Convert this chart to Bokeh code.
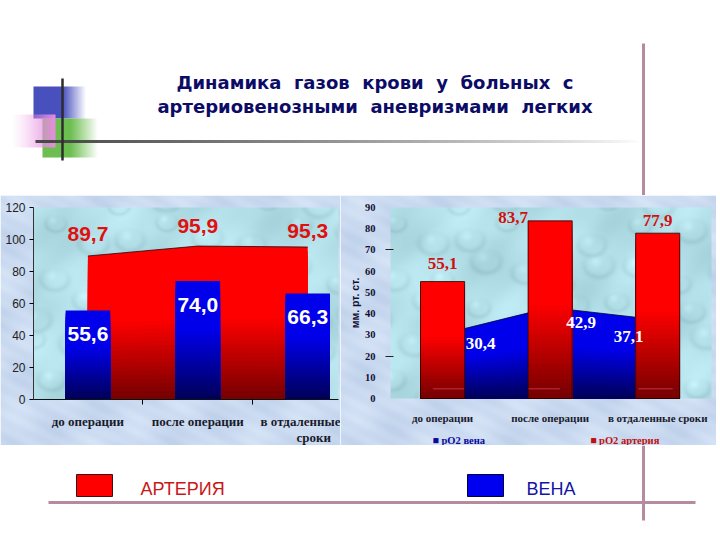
import numpy as np
from bokeh.core.properties import value
from bokeh.embed import file_html
from bokeh.layouts import column, row
from bokeh.models import FixedTicker, Range1d
from bokeh.plotting import figure
from bokeh.resources import INLINE

NB = "\u00a0"
title_lines = [f"Динамика {NB}газов {NB}крови {NB}у {NB}больных {NB}с", f"артериовенозными {NB}аневризмами {NB}легких"]
categories_left = ["до операции", "после операции", "в отдаленные"]
category_left_second_line = "сроки"
artery_left = [89.7, 95.9, 95.3]
vein_left = [55.6, 74.0, 66.3]
ticks_left = [0, 20, 40, 60, 80, 100, 120]

categories_right = ["до операции", "после операции", "в отдаленные сроки"]
vein_right = [30.4, 42.9, 37.1]
artery_right = [55.1, 83.7, 77.9]
ticks_right = [0, 10, 20, 30, 40, 50, 60, 70, 80, 90]
y_label_right = "мм. рт. ст."
legend_right = ["■ pO2 вена", "■ pO2 артерия"]
legend_bottom = ["АРТЕРИЯ", "ВЕНА"]

LINE = "#b88a9f"
N = 36
SANS = value("Liberation Sans")
SERIF = value("Liberation Serif")


def fmt(v):
    return f"{v:.1f}".replace(".", ",")


def rgba(arr):
    a = np.clip(arr, 0, 255).astype(np.uint32)
    return a[..., 0] | (a[..., 1] << 8) | (a[..., 2] << 16) | (a[..., 3] << 24)


def texture(w, h, fl, fr, ft, fb):
    """Panel backdrop: mottled lilac border around a droplet-textured frame."""
    yy, xx = np.mgrid[0:h, 0:w].astype(float)
    img = np.zeros((h, w, 4))
    mott = 5 * np.sin(xx / 23 + yy / 11) + 4 * np.sin(xx / 9 - yy / 17) + 3 * np.sin((xx - 2 * yy) / 5)
    img[..., 0] = 203 + mott
    img[..., 1] = 219 + mott * 0.8
    img[..., 2] = 241 + mott * 0.5
    img[..., 3] = 255
    base = np.zeros((h, w, 3))
    base[..., 0], base[..., 1], base[..., 2] = 180, 225, 233
    m = 6 * np.sin(xx / 17 + yy / 29) + 5 * np.sin(xx / 41 - yy / 13) + 2 * np.sin((xx + yy) / 7)
    for c in range(3):
        base[..., c] += m
    for i in range(0, w + 44, 44):
        for j in range(0, h + 38, 38):
            cx = i + 14 * np.sin(j * 0.7 + i * 0.13)
            cy = j + 12 * np.cos(i * 0.9 + j * 0.21)
            r = 9 + 5 * abs(np.sin(i * 0.31 + j * 0.47))
            d = np.hypot((xx - cx) / 1.2, yy - cy) / r
            rim = np.exp(-((d - 0.9) / 0.2) ** 2)
            hi = np.exp(-(np.hypot(xx - cx + 3, yy - cy + 3) / (r * 0.35)) ** 2)
            for c in range(3):
                base[..., c] += 12 * hi - 13 * rim * np.sin(0.8 + (yy - cy) / r)
    img[ft:h - fb, fl:w - fr, :3] = base[ft:h - fb, fl:w - fr]
    return rgba(img[::-1])


def red_shade(t):
    return "#%02x0000" % int(112 + 143 * min(t / 0.55, 1))


def blue_shade(t):
    return "#0000%02x" % int(84 + 150 * min(t / 0.6, 1))


def grad_bars(p, x, values, width, shade):
    for k in range(N, 0, -1):
        p.vbar(x=x, top=[v * k / N for v in values], width=width, color=shade(k / N), line_alpha=0)


def grad_area(p, x, values, shade):
    for k in range(N, 0, -1):
        p.varea(x=x, y1=[0] * len(values), y2=[v * k / N for v in values], fill_color=shade(k / N))
    p.line(x, values, line_color="#300000" if shade is red_shade else "#000040", line_width=0.8)


def panel(w, h, xr, yr, fl, fr, ft, fb):
    """Figure whose frame fills the panel; xr, yr are the limits of the inner plot box."""
    fw, fh = w - fl - fr, h - ft - fb
    ux, uy = (xr[1] - xr[0]) / fw, (yr[1] - yr[0]) / fh
    X0, X1 = xr[0] - fl * ux, xr[1] + fr * ux
    Y0, Y1 = yr[0] - fb * uy, yr[1] + ft * uy
    p = figure(width=w, height=h, x_range=Range1d(X0, X1), y_range=Range1d(Y0, Y1),
               output_backend="svg", toolbar_location=None, min_border=0)
    p.outline_line_color = None
    p.grid.visible = False
    p.image_rgba(image=[texture(w, h, fl, fr, ft, fb)], x=X0, y=Y0, dw=X1 - X0, dh=Y1 - Y0)
    p.xaxis.fixed_location = yr[0]
    p.yaxis.fixed_location = xr[0]
    p.xaxis.bounds = tuple(xr)
    p.yaxis.bounds = tuple(yr)
    return p


# ---------- top decoration ----------
top = figure(width=716, height=195, x_range=Range1d(0, 716), y_range=Range1d(0, 195),
             output_backend="svg", toolbar_location=None, min_border=0)
top.axis.visible = False
top.grid.visible = False
top.outline_line_color = None
top.background_fill_color = "white"
top.border_fill_color = "white"


def Y(v):
    return 195 - v


def fade_rect(x0, x1, y0, y1, col, solid_to, fade_left=False):
    w, h = x1 - x0, y1 - y0
    a = np.zeros((h, w, 4))
    xs = np.arange(w) / max(w - 1, 1)
    alpha = np.clip((1 - xs) / (1 - solid_to), 0, 1)
    if fade_left:
        alpha = np.clip(xs / solid_to, 0, 1) ** 1.3
    for c in range(3):
        a[..., c] = col[c]
    a[..., 3] = 255 * alpha
    top.image_rgba(image=[rgba(a)], x=x0, y=Y(y1), dw=w, dh=h)


fade_rect(33, 86, 86, 118, (72, 80, 190), 0.55)
fade_rect(42, 98, 118, 157, (108, 190, 80), 0.5)
fade_rect(10, 55, 114, 147, (232, 140, 225), 1.0, fade_left=True)

hl = np.zeros((3, 605, 4))
hl[..., :3] = 70
hl[..., 3] = 255 * np.clip(1 - np.arange(605) / 605, 0, 1) ** 0.8
top.image_rgba(image=[rgba(hl)], x=35, y=Y(142.5), dw=605, dh=3)
top.segment(x0=[62], y0=[Y(78)], x1=[62], y1=[Y(160)], line_color="#2c2c2c", line_width=2.5)
top.segment(x0=[643], y0=[Y(43)], x1=[643], y1=[Y(195)], line_color=LINE, line_width=3)
top.text(x=[374.5, 374.5], y=[Y(82), Y(106)], text=title_lines, text_font_style="bold", text_font=value("DejaVu Sans"),
         text_font_size="18px", text_color="#0c0c66", text_align="center", text_baseline="middle")

# ---------- left chart ----------
x_l = [0, 1, 2]
left = panel(340, 250, (-0.495, 2.28), (0, 120), 33, 2, 12, 46)
grad_area(left, x_l, artery_left, red_shade)
grad_bars(left, x_l, vein_left, 0.405, blue_shade)
left.xaxis.ticker = FixedTicker(ticks=x_l, minor_ticks=[0.5, 1.5])
left.xaxis.major_label_overrides = dict(zip(x_l, categories_left))
left.xaxis.major_tick_line_color = None
left.xaxis.minor_tick_out = 5
left.xaxis.minor_tick_in = 0
left.xaxis.major_label_standoff = 8
left.xaxis.major_label_text_font = "Liberation Serif"
left.xaxis.major_label_text_font_style = "bold"
left.xaxis.major_label_text_font_size = "13px"
left.xaxis.major_label_text_color = "#1a1a2a"
left.xaxis.axis_line_color = "#111111"
left.yaxis.ticker = FixedTicker(ticks=ticks_left)
left.yaxis.major_tick_out = 4
left.yaxis.major_tick_in = 0
left.yaxis.minor_tick_line_color = None
left.yaxis.major_label_standoff = 4
left.yaxis.major_label_text_font = "Liberation Sans"
left.yaxis.major_label_text_font_size = "12px"
left.yaxis.major_label_text_color = "#222222"
left.yaxis.axis_line_color = "#333333"
left.text(x=x_l, y=artery_left, text=[fmt(v) for v in artery_left], y_offset=[-22, -20, -16],
          text_font=SANS, text_font_style="bold", text_font_size="21px",
          text_color="#e01010", text_align="center", text_baseline="middle")
left.text(x=x_l, y=vein_left, text=[fmt(v) for v in vein_left], y_offset=[23, 24, 24],
          text_font=SANS, text_font_style="bold", text_font_size="21px",
          text_color="white", text_align="center", text_baseline="middle")
left.text(x=[x_l[2]], y=[0], text=[category_left_second_line], y_offset=[38], x_offset=[6],
          text_font=SERIF, text_font_style="bold", text_font_size="13px",
          text_color="#1a1a2a", text_align="center", text_baseline="middle")

# ---------- right chart ----------
x_r = [0, 1, 2]
right = panel(376, 250, (-0.484, 2.5), (0, 90), 50, 5, 12, 47)
grad_area(right, x_r, vein_right, blue_shade)
grad_bars(right, x_r, artery_right, 0.41, red_shade)
right.vbar(x=x_r, top=artery_right, width=0.41, fill_alpha=0, line_color="#200000", line_width=0.8)
right.segment(x0=[-0.09, 0.8, 1.82], x1=[0.2, 1.09, 2.14], y0=[4.6] * 3, y1=[4.6] * 3,
              line_color="#b02030", line_width=1.5)
right.xaxis.ticker = FixedTicker(ticks=x_r)
right.xaxis.major_label_overrides = dict(zip(x_r, categories_right))
right.xaxis.axis_line_color = None
right.xaxis.major_tick_line_color = None
right.xaxis.minor_tick_line_color = None
right.xaxis.major_label_standoff = 7
right.xaxis.major_label_text_font = "Liberation Serif"
right.xaxis.major_label_text_font_style = "bold"
right.xaxis.major_label_text_font_size = "11px"
right.xaxis.major_label_text_color = "#1a1a2a"
right.yaxis.ticker = FixedTicker(ticks=ticks_right, minor_ticks=[20, 70])
right.yaxis.axis_line_color = None
right.yaxis.major_tick_line_color = None
right.yaxis.minor_tick_out = 5
right.yaxis.minor_tick_in = 3
right.yaxis.minor_tick_line_color = "#222222"
right.yaxis.major_label_standoff = 9
right.yaxis.major_label_text_font = "Liberation Serif"
right.yaxis.major_label_text_font_style = "bold"
right.yaxis.major_label_text_font_size = "10.5px"
right.yaxis.major_label_text_color = "#111133"
right.yaxis.axis_label = y_label_right
right.yaxis.axis_label_standoff = 1
right.yaxis.axis_label_text_font = "Liberation Sans"
right.yaxis.axis_label_text_font_style = "bold"
right.yaxis.axis_label_text_font_size = "10.5px"
right.yaxis.axis_label_text_color = "#111133"
right.text(x=x_r, y=artery_right, text=[fmt(v) for v in artery_right], x_offset=[0, -37, 0], y_offset=[-18, -3, -13],
           text_font=SERIF, text_font_style="bold", text_font_size="17px",
           text_color="#d01010", text_align="center", text_baseline="middle")
right.text(x=x_r, y=vein_right, text=[fmt(v) for v in vein_right], x_offset=[38, 31, -29], y_offset=[10, 15, 17],
           text_font=SERIF, text_font_style="bold", text_font_size="17px",
           text_color="white", text_align="center", text_baseline="middle")
right.text(x=[x_r[0], x_r[1]], y=[0, 0], text=legend_right, x_offset=[-10, 40], y_offset=[42, 42],
           text_font=SERIF, text_font_style="bold", text_font_size="10.5px",
           text_color=["#0a0a9a", "#c01010"], text_baseline="middle")

# ---------- bottom ----------
bottom = figure(width=716, height=79, x_range=Range1d(0, 716), y_range=Range1d(524, 445),
                output_backend="svg", toolbar_location=None, min_border=0)
bottom.axis.visible = False
bottom.grid.visible = False
bottom.outline_line_color = None
bottom.border_fill_color = "white"
bottom.segment(x0=[643], y0=[445], x1=[643], y1=[520], line_color=LINE, line_width=3)
bottom.segment(x0=[48], y0=[502], x1=[695], y1=[502], line_color=LINE, line_width=3)
bottom.quad(left=[76], right=[112], top=[474], bottom=[496], fill_color="#ff0000", line_color="#401010", line_width=1)
bottom.quad(left=[467], right=[503], top=[474], bottom=[496], fill_color="#0000f0", line_color="#000040", line_width=1)
bottom.text(x=[140, 526], y=[488, 488], text=legend_bottom, text_font=SANS,
            text_font_size="18px", text_color=["#c81818", "#1414a8"], text_baseline="middle")

layout = column(top, row(left, right, spacing=0), bottom, spacing=0)
open("out.html", "w").write(file_html(layout, INLINE))
